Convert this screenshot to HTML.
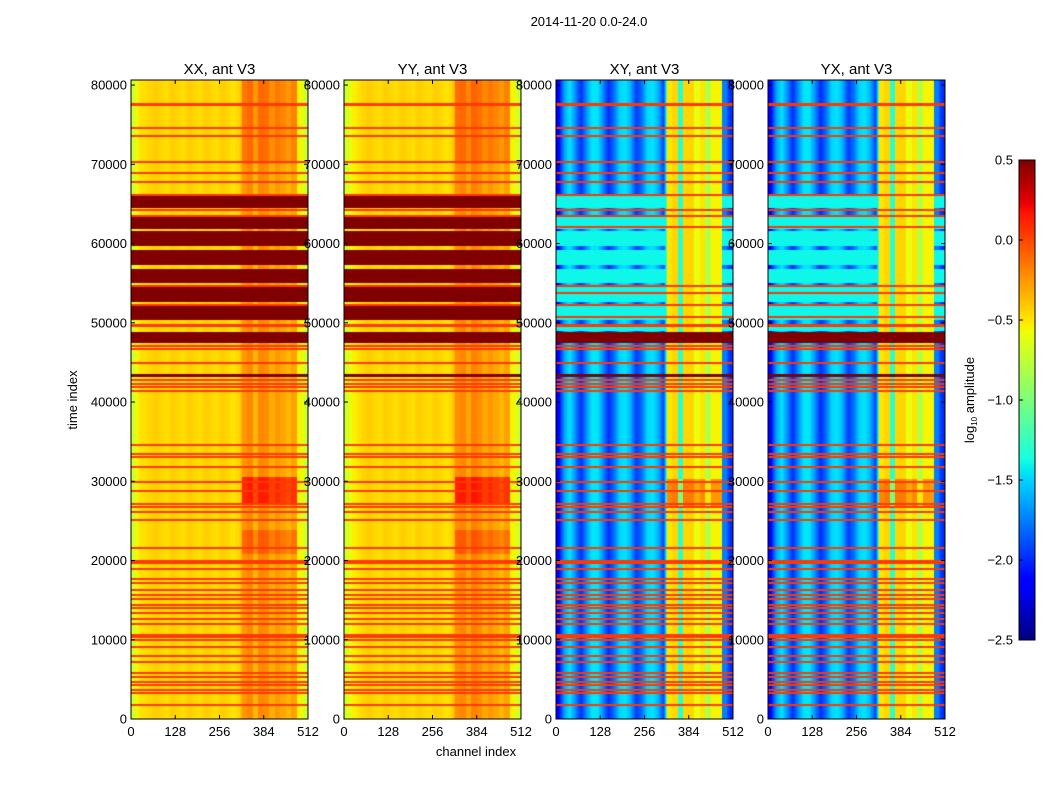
<!DOCTYPE html>
<html><head><meta charset="utf-8"><style>
body{margin:0;background:#fff;width:1050px;height:800px;overflow:hidden;font-family:"Liberation Sans","DejaVu Sans",sans-serif}
#wrap{position:relative;width:1050px;height:800px}
canvas,svg{position:absolute;left:0;top:0}
</style></head><body>
<div id="wrap">
<canvas id="cv" width="1050" height="800"></canvas>
<svg id="sv" width="1050" height="800"></svg>
</div>
<script>
// ---- data ----
const tMax = 80640;
const panelTitles = ["XX, ant V3","YY, ant V3","XY, ant V3","YX, ant V3"];
const yTicks = [0,10000,20000,30000,40000,50000,60000,70000,80000];
const xTicks = [0,128,256,384,512];
const cbTicks = [0.5,0.0,-0.5,-1.0,-1.5,-2.0,-2.5];
const cbTickLabels = ["0.5","0.0","\u22120.5","\u22121.0","\u22121.5","\u22122.0","\u22122.5"];
// column profiles, 32 bins of 16 channels
const colXX = [-0.7,-0.5,-0.48,-0.45,-0.42,-0.45,-0.48,-0.42,-0.45,-0.48,-0.42,-0.45,-0.48,-0.42,-0.45,-0.48,-0.42,-0.45,-0.5,-0.45,-0.25,-0.2,-0.35,-0.2,-0.22,-0.32,-0.25,-0.3,-0.35,-0.28,-0.55,-0.7];
const colYY = [-0.7,-0.55,-0.5,-0.45,-0.42,-0.45,-0.48,-0.42,-0.45,-0.48,-0.42,-0.45,-0.48,-0.42,-0.45,-0.48,-0.42,-0.45,-0.5,-0.45,-0.22,-0.2,-0.3,-0.18,-0.22,-0.3,-0.25,-0.3,-0.35,-0.28,-0.55,-0.7];
const colXY = [-2.15,-1.65,-1.45,-1.7,-2.0,-1.7,-1.45,-1.45,-1.7,-2.0,-1.8,-1.5,-1.45,-1.6,-1.95,-1.8,-1.5,-1.45,-1.6,-1.95,-0.5,-0.45,-1.3,-0.45,-0.45,-0.6,-0.5,-0.8,-0.55,-0.55,-1.75,-2.0];
const colYX = [-2.15,-1.65,-1.45,-1.7,-2.0,-1.7,-1.45,-1.45,-1.7,-2.0,-1.8,-1.5,-1.45,-1.6,-1.95,-1.8,-1.5,-1.45,-1.6,-1.95,-0.5,-0.45,-1.3,-0.45,-0.45,-0.6,-0.5,-0.8,-0.55,-0.55,-1.75,-2.0];
const satBands = [[64500,66000],[61830,63350],[59680,61580],[57290,59180],[55020,56780],[52620,54510],[50350,52110],[47440,48830],[43150,43530]];
const crossSatBands = [[47440,48830],[43150,43530]];
const noisyBands = [[64500,66000],[61830,63350],[59680,61580],[57290,59180],[55020,56780],[52620,54510],[50350,52110],[49000,49500]];
const thickBands = [[19500,20100],[77300,77700],[64100,64370],[49500,49850]];
const rfiLines = [21580,18930,17670,17160,16280,15650,15140,14390,14010,13380,12620,11990,10600,10350,9970,9090,7950,7190,5810,5300,4670,4290,3660,3280,1770,74580,73570,70290,68910,67770,66130,63480,62090,54650,53760,52250,50730,47070,46690,44930,42780,42280,41900,41390,34580,33440,33060,31800,29910,28770,27130,26750,26120,25110];
const autoHot = [[27000,30500,0.35],[20800,23800,0.15],[70000,80640,0.1]];
const crossHot = [[26700,30300,0.3]];
// ---- layout ----
const panelLeft = [131,344,556,768], PW = 177, PT = 80, PH = 639;
const tY = t => PT + PH - t / tMax * PH;
const chX = (i, c) => panelLeft[i] + c / 512 * PW;
const vmin = -2.5, vmax = 0.5;
function seg(pts, x){for(let k=1;k<pts.length;k++){if(x<=pts[k][0]){const a=pts[k-1],b=pts[k];return a[1]+(b[1]-a[1])*(x-a[0])/(b[0]-a[0]);}}return pts[pts.length-1][1];}
const R=[[0,0],[0.35,0],[0.66,1],[0.89,1],[1,0.5]],G=[[0,0],[0.125,0],[0.375,1],[0.64,1],[0.91,0],[1,0]],B=[[0,0.5],[0.11,1],[0.34,1],[0.65,0],[1,0]];
function jet(v){let x=(v-vmin)/(vmax-vmin);x=Math.max(0,Math.min(1,x));return [seg(R,x)*255,seg(G,x)*255,seg(B,x)*255];}
const inB=(t,bs)=>bs.some(b=>t>=b[0]&&t<=b[1]);
function colVal(col, ch){
  if(ch>=320 && ch<496) return col[Math.floor(ch/16)];
  const f=ch/16-0.5, i=Math.max(0,Math.min(30,Math.floor(f))), w=Math.max(0,Math.min(1,f-i));
  return col[i]*(1-w)+col[i+1]*w;
}
function value(p, ch, t){
  const cross = p>=2;
  const col = [colXX,colYY,colXY,colYX][p];
  let v = colVal(col, ch);
  const right = ch>=320 && ch<480;
  if(right){for(const h of (cross?crossHot:autoHot)){if(t>=h[0]&&t<=h[1]) v=v+h[2];}}
  if(cross){ if(inB(t,noisyBands)) v=Math.max(-1.4,v); }
  if(inB(t,thickBands)) v=0.05;
  for(const l of rfiLines){ if(Math.abs(t-l)<75){v=0.05;break;} }
  if(cross){ if(inB(t,crossSatBands)) v=0.5; } else { if(inB(t,satBands)) v=0.5; }
  return v;
}
const cv=document.getElementById('cv'),ctx=cv.getContext('2d');
for(let p=0;p<4;p++){
  const img=ctx.createImageData(PW,PH);
  for(let py=0;py<PH;py++){
    const t=(PH-(py+0.5))/PH*tMax;
    for(let px=0;px<PW;px++){
      const ch=(px+0.5)/PW*512;
      const c=jet(value(p,ch,t));const o=(py*PW+px)*4;
      img.data[o]=c[0];img.data[o+1]=c[1];img.data[o+2]=c[2];img.data[o+3]=255;
    }
  }
  ctx.putImageData(img,panelLeft[p],PT);
}
// colorbar
const CBX=1019,CBW=16,CBT=160,CBH=480;
const cbY=v=>CBT+(vmax-v)/(vmax-vmin)*CBH;
for(let y=0;y<CBH;y++){const v=vmax-(y+0.5)/CBH*(vmax-vmin);const c=jet(v);ctx.fillStyle=`rgb(${c[0]|0},${c[1]|0},${c[2]|0})`;ctx.fillRect(CBX,CBT+y,CBW,1);}
// ---- svg overlay ----
const sv=document.getElementById('sv');const NS='http://www.w3.org/2000/svg';
function mk(tag,attrs,txt){const e=document.createElementNS(NS,tag);for(const k in attrs)e.setAttribute(k,attrs[k]);if(txt!==undefined)e.textContent=txt;sv.appendChild(e);return e;}
let e;
e=mk('text',{x:589,y:26,'font-size':13,'text-anchor':'middle'},'2014-11-20 0.0-24.0');


for(let p=0;p<4;p++){
  const L=panelLeft[p];
  e=mk('rect',{x:L,y:PT,width:PW,height:PH,fill:'none',stroke:'#000','stroke-width':1});
  
  
  e=mk('text',{x:L+PW/2,y:74,'font-size':15,'text-anchor':'middle'},panelTitles[p]);
  
  
  for(const t of yTicks){
    const y=tY(t);
    e=mk('line',{x1:L,x2:L+4,y1:y,y2:y,stroke:'#000'});
    
    
    e=mk('line',{x1:L+PW-4,x2:L+PW,y1:y,y2:y,stroke:'#000'});
    
    
    e=mk('text',{x:L-4,y:y+4.5,'font-size':13,'text-anchor':'end'},String(t));
    
    
  }
  for(const c of xTicks){
    const x=chX(p,c);
    e=mk('line',{x1:x,x2:x,y1:PT+PH,y2:PT+PH-4,stroke:'#000'});
    
    
    e=mk('line',{x1:x,x2:x,y1:PT,y2:PT+4,stroke:'#000'});
    
    
    e=mk('text',{x:x,y:PT+PH+17,'font-size':13,'text-anchor':'middle'},String(c));
    
    
  }
}
e=mk('text',{x:77,y:400,'font-size':13,'text-anchor':'middle',transform:'rotate(-90 77 400)'},'time index');


e=mk('text',{x:476,y:756,'font-size':13,'text-anchor':'middle'},'channel index');


e=mk('rect',{x:CBX,y:CBT,width:CBW,height:CBH,fill:'none',stroke:'#000'});


cbTicks.forEach((v,i)=>{
  const y=cbY(v);
  e=mk('line',{x1:CBX,x2:CBX+4,y1:y,y2:y,stroke:'#000'});
  
  
  e=mk('text',{x:1013,y:y+4.5,'font-size':13,'text-anchor':'end'},cbTickLabels[i]);
  
  
});
e=mk('text',{x:974,y:400,'font-size':13,'text-anchor':'middle',transform:'rotate(-90 974 400)'});


e.innerHTML='log<tspan font-size="8" dy="3">10</tspan><tspan dy="-3"> amplitude</tspan>';
</script>
</body></html>
